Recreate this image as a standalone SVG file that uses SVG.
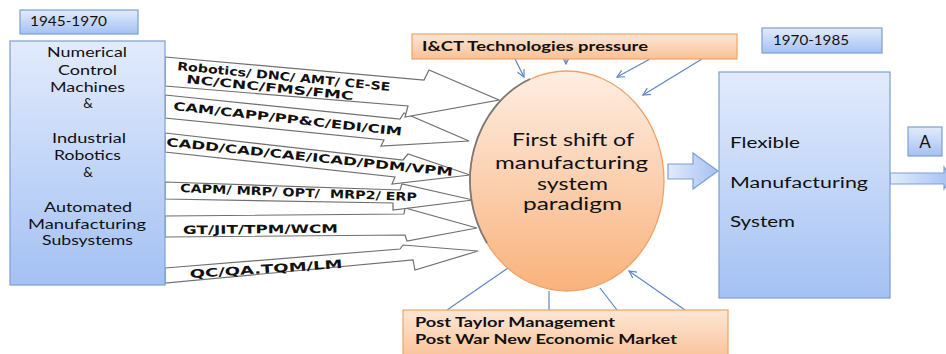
<svg xmlns="http://www.w3.org/2000/svg" width="946" height="354" viewBox="0 0 946 354">
<defs>
<linearGradient id="blueV" x1="0" y1="0" x2="0" y2="1"><stop offset="0" stop-color="#e2ebfc"/><stop offset="1" stop-color="#a4c1f3"/></linearGradient>
<linearGradient id="blueH" x1="0" y1="0" x2="1" y2="0"><stop offset="0" stop-color="#e2ebfc"/><stop offset="1" stop-color="#a4c1f3"/></linearGradient>
<linearGradient id="orangeV" x1="0" y1="0" x2="0" y2="1"><stop offset="0" stop-color="#feeee3"/><stop offset="1" stop-color="#f9b27c"/></linearGradient>
<linearGradient id="orangeBox" x1="0" y1="0" x2="0" y2="1"><stop offset="0" stop-color="#fde7d6"/><stop offset="1" stop-color="#f9c196"/></linearGradient>
<marker id="vhead" viewBox="0 0 10 10" refX="9" refY="5" markerWidth="9" markerHeight="9" orient="auto" markerUnits="userSpaceOnUse">
<path d="M1 1 L9 5 L1 9" fill="none" stroke="#5b86c5" stroke-width="1.3"/>
</marker>
<style>
.box{fill:url(#blueV);stroke:#7d9fd3;stroke-width:1.2}
.obox{fill:url(#orangeBox);stroke:#f2a265;stroke-width:1.2}
.big{fill:#fff;stroke:#707070;stroke-width:1.2;stroke-linejoin:miter}
.lbl{font-family:"DejaVu Sans",sans-serif;font-weight:bold;font-size:11.5px;fill:#111}
.txt{font-family:Lato,"Liberation Sans",sans-serif;fill:#111}
.bold{font-family:Lato,"Liberation Sans",sans-serif;font-weight:bold;fill:#111}
.conn{fill:none;stroke:#5b86c5;stroke-width:1.2}
</style>
</defs>
<rect width="946" height="354" fill="#fff"/>

<g id="connectors">
<g id="hollow-arrows">
<polygon class="big" points="165,268 400,249 403,245 478,251 415,270 413,260 165,283"/>
<polygon class="big" points="165,216 404,214 405,208 477,228 407,241 405,235 165,237"/>
<polygon class="big" points="165,182 400,190 402,184 473,200 393,210 393,203 165,199"/>
<polygon class="big" points="165,133 403,160 408,154 470,175 392,184 395,177 165,152"/>
<polygon class="big" points="165,95 400,119 404,113 469,141 381,146 384,140 165,118"/>
<polygon class="big" points="165,57 424,80 429,70 499,100 405,117 408,106 165,86"/>
<text class="lbl" transform="translate(177,70) rotate(5.6)" textLength="214" lengthAdjust="spacingAndGlyphs">Robotics/ DNC/ AMT/ CE-SE</text>
<text class="lbl" transform="translate(186,83) rotate(5.8)" textLength="168" lengthAdjust="spacingAndGlyphs">NC/CNC/FMS/FMC</text>
<text class="lbl" transform="translate(173,110) rotate(6.4)" textLength="230" lengthAdjust="spacingAndGlyphs">CAM/CAPP/PP&amp;C/EDI/CIM</text>
<text class="lbl" transform="translate(166,146) rotate(6)" textLength="288" lengthAdjust="spacingAndGlyphs">CADD/CAD/CAE/ICAD/PDM/VPM</text>
<text class="lbl" xml:space="preserve" transform="translate(180,192) rotate(2.2)" textLength="237" lengthAdjust="spacingAndGlyphs">CAPM/ MRP/ OPT/  MRP2/ ERP</text>
<text class="lbl" transform="translate(183,234) rotate(-0.5)" textLength="155" lengthAdjust="spacingAndGlyphs">GT/JIT/TPM/WCM</text>
<text class="lbl" transform="translate(190,278) rotate(-3.8)" textLength="153" lengthAdjust="spacingAndGlyphs">QC/QA.TQM/LM</text>
</g>
<line class="conn" x1="515" y1="59" x2="524" y2="77" marker-end="url(#vhead)"/>
<line class="conn" x1="566" y1="58" x2="566" y2="64" marker-end="url(#vhead)"/>
<line class="conn" x1="650" y1="59" x2="617" y2="77" marker-end="url(#vhead)"/>
<line class="conn" x1="702" y1="59" x2="643" y2="95" marker-end="url(#vhead)"/>
<line class="conn" x1="447" y1="310" x2="508" y2="268"/>
<line class="conn" x1="549" y1="310" x2="549" y2="291"/>
<line class="conn" x1="617" y1="310" x2="600" y2="288"/>
<line class="conn" x1="685" y1="310" x2="629" y2="271" marker-end="url(#vhead)"/>
<polygon points="668,164 693,164 693,153 718,171 693,189 693,179 668,179" fill="url(#blueH)" stroke="#7d9fd3" stroke-width="1.2"/>
<polygon points="890,173 944,173 944,167 952,178 944,189 944,184 890,184" fill="url(#blueH)" stroke="#7d9fd3" stroke-width="1.2"/>
</g>

<g id="period1">
<rect class="box" x="20" y="10" width="118" height="24"/>
<text class="txt" x="30" y="26" font-size="14" textLength="77" lengthAdjust="spacingAndGlyphs">1945-1970</text>
</g>

<g id="left-box">
<rect class="box" x="10" y="41" width="155" height="244"/>
<g class="txt" font-size="13.5">
<text x="47" y="57" textLength="80" lengthAdjust="spacingAndGlyphs">Numerical</text>
<text x="58" y="74.5" textLength="59" lengthAdjust="spacingAndGlyphs">Control</text>
<text x="50" y="91.5" textLength="75" lengthAdjust="spacingAndGlyphs">Machines</text>
<text x="88" y="108" text-anchor="middle">&amp;</text>
<text x="52" y="143" textLength="74" lengthAdjust="spacingAndGlyphs">Industrial</text>
<text x="54" y="160" textLength="67" lengthAdjust="spacingAndGlyphs">Robotics</text>
<text x="88" y="177" text-anchor="middle">&amp;</text>
<text x="44" y="212" textLength="88" lengthAdjust="spacingAndGlyphs">Automated</text>
<text x="28" y="228.5" textLength="118" lengthAdjust="spacingAndGlyphs">Manufacturing</text>
<text x="42" y="245" textLength="91" lengthAdjust="spacingAndGlyphs">Subsystems</text>
</g>
</g>

<g id="ict-pressure">
<rect class="obox" x="412" y="34" width="325" height="25"/>
<text class="bold" x="422" y="51" font-size="14" textLength="226" lengthAdjust="spacingAndGlyphs">I&amp;CT Technologies pressure</text>
</g>

<g id="post-taylor">
<rect class="obox" x="403" y="310" width="325" height="50"/>
<text class="bold" x="415" y="327" font-size="14" textLength="200" lengthAdjust="spacingAndGlyphs">Post Taylor Management</text>
<text class="bold" x="415" y="344" font-size="14" textLength="262" lengthAdjust="spacingAndGlyphs">Post War New Economic Market</text>
</g>

<g id="paradigm-shift">
<ellipse cx="567" cy="181" rx="97" ry="110" fill="url(#orangeV)" stroke="#f2a265" stroke-width="1.3"/>
<path d="M530 79 A97 110 0 0 0 487 243" fill="none" stroke="#7a7a7a" stroke-width="1.8"/>
<g class="txt" font-size="16.5">
<text x="512" y="146" textLength="122" lengthAdjust="spacingAndGlyphs">First shift of</text>
<text x="495" y="169" textLength="153" lengthAdjust="spacingAndGlyphs">manufacturing</text>
<text x="537" y="190" textLength="71" lengthAdjust="spacingAndGlyphs">system</text>
<text x="523" y="210" textLength="99" lengthAdjust="spacingAndGlyphs">paradigm</text>
</g>
</g>

<g id="period2">
<rect class="box" x="762" y="28" width="120" height="25"/>
<text class="txt" x="773" y="45" font-size="14" textLength="76" lengthAdjust="spacingAndGlyphs">1970-1985</text>
</g>

<g id="fms">
<rect class="box" x="719" y="72" width="171" height="226"/>
<g class="txt" font-size="15.5">
<text x="730" y="148" textLength="70" lengthAdjust="spacingAndGlyphs">Flexible</text>
<text x="730" y="188" textLength="138" lengthAdjust="spacingAndGlyphs">Manufacturing</text>
<text x="730" y="227" textLength="65" lengthAdjust="spacingAndGlyphs">System</text>
</g>
</g>

<g id="label-a">
<rect class="box" x="908" y="127" width="34" height="29"/>
<text class="txt" x="925" y="148" font-size="17" text-anchor="middle">A</text>
</g>
</svg>
